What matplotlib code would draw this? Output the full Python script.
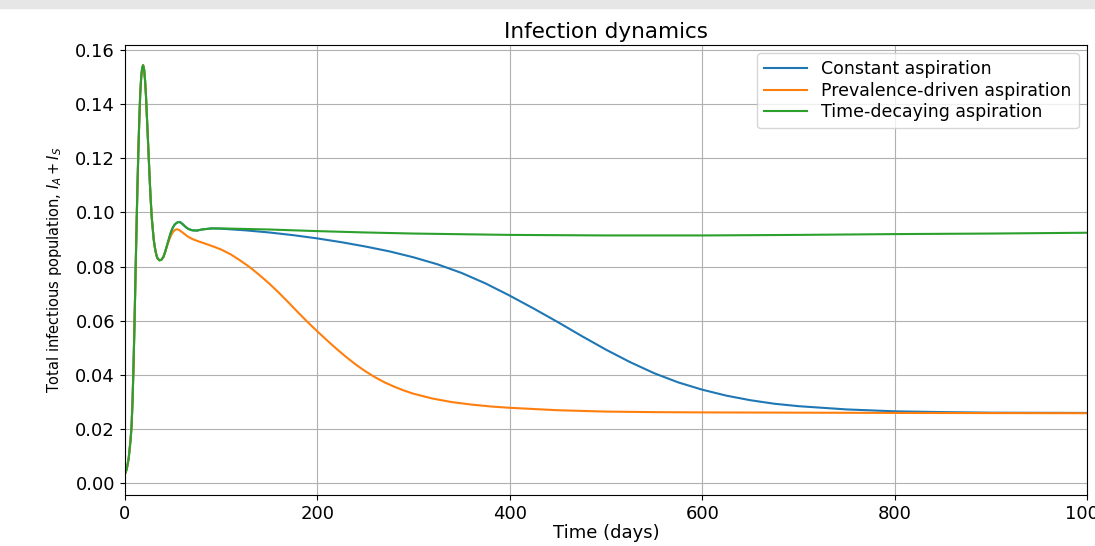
import matplotlib.pyplot as plt
from matplotlib.patches import Rectangle
import numpy as np

# early outbreak, identical for all three scenarios
t_early = [0, 2, 4, 6, 7, 8, 9, 10, 11, 12, 13, 14, 15, 16, 17, 18, 19, 20,
           21, 22, 23, 24, 25, 26, 27, 28, 29, 30, 31, 32, 33, 34, 36, 38, 40]
y_early = [0.003, 0.005, 0.009, 0.016, 0.021, 0.030, 0.043, 0.058, 0.075, 0.092,
           0.108, 0.122, 0.134, 0.144, 0.150, 0.1535, 0.1545, 0.153, 0.149, 0.143,
           0.135, 0.127, 0.119, 0.111, 0.104, 0.098, 0.094, 0.090, 0.0875, 0.0855,
           0.084, 0.083, 0.0823, 0.0825, 0.0835]

# constant aspiration and time-decaying share the curve up to ~t=90
t_mid = [42, 44, 46, 48, 50, 52, 54, 56, 58, 60, 63, 66, 70, 75, 80, 90]
y_mid = [0.0855, 0.088, 0.0905, 0.0928, 0.0945, 0.0956, 0.0962, 0.0965, 0.0963,
         0.0957, 0.0947, 0.0939, 0.0934, 0.0933, 0.0937, 0.0941]

# constant aspiration
t_const = [100, 125, 150, 175, 200, 225, 250, 275, 300, 325, 350, 375, 400, 425,
           450, 475, 500, 525, 550, 575, 600, 625, 650, 675, 700, 750, 800, 850,
           900, 1000]
y_const = [0.0940, 0.0934, 0.0926, 0.0916, 0.0904, 0.0890, 0.0874, 0.0856, 0.0834,
           0.0808, 0.0776, 0.0737, 0.0692, 0.0644, 0.0594, 0.0542, 0.0492, 0.0446,
           0.0405, 0.0371, 0.0344, 0.0322, 0.0305, 0.0292, 0.0283, 0.0271, 0.0264,
           0.0261, 0.0259, 0.0258]

# prevalence-driven aspiration
t_prev = [42, 44, 46, 48, 50, 52, 54, 56, 60, 65, 70, 75, 80, 88, 95, 100, 110,
          120, 130, 140, 150, 160, 170, 180, 190, 200, 210, 220, 230, 240, 250,
          260, 270, 280, 290, 300, 320, 340, 360, 380, 400, 450, 500, 550, 600,
          700, 800, 1000]
y_prev = [0.0855, 0.0878, 0.0898, 0.0915, 0.0928, 0.0935, 0.0938, 0.0936, 0.0926,
          0.0912, 0.0902, 0.0895, 0.0889, 0.0879, 0.0870, 0.0863, 0.0845, 0.0822,
          0.0797, 0.0768, 0.0737, 0.0703, 0.0667, 0.0630, 0.0594, 0.0560, 0.0527,
          0.0495, 0.0465, 0.0437, 0.0412, 0.0390, 0.0371, 0.0355, 0.0341, 0.0329,
          0.0311, 0.0298, 0.0289, 0.0282, 0.0277, 0.0268, 0.0263, 0.0261, 0.0260,
          0.0259, 0.0258, 0.0257]

# time-decaying aspiration
t_decay = [100, 125, 150, 200, 250, 300, 400, 500, 600, 700, 800, 900, 1000]
y_decay = [0.0941, 0.0939, 0.0937, 0.0931, 0.0926, 0.0922, 0.0917, 0.0915,
           0.0915, 0.0917, 0.0920, 0.0922, 0.0925]

fig = plt.figure(figsize=(10.95, 5.46), dpi=100)
ax = fig.add_axes([0.114, 0.0934, 0.879, 0.8246])
fig.patches.append(Rectangle((0, 0.986), 1, 0.014, transform=fig.transFigure,
                             color='#e6e6e6', zorder=0))

ax.plot(t_early + t_mid + t_const, y_early + y_mid + y_const,
        color='C0', label='Constant aspiration')
ax.plot(t_early + t_prev, y_early + y_prev,
        color='C1', label='Prevalence-driven aspiration')
ax.plot(t_early + t_mid + t_decay, y_early + y_mid + y_decay,
        color='C2', label='Time-decaying aspiration')

ax.set_xlim(0, 1000)
ax.set_xticks([0, 200, 400, 600, 800, 1000])
ax.tick_params(labelsize=13)
ax.set_title('Infection dynamics', fontsize=15.5, pad=5)
ax.set_xlabel('Time (days)', fontsize=13, labelpad=1)
ax.set_ylabel(r'Total infectious population, $I_A + I_S$', fontsize=10.5, labelpad=8)
ax.legend(loc='upper right', fontsize=12.5, labelspacing=0.2, handlelength=2.5)
ax.grid()

fig.savefig('out.png', dpi=100)
